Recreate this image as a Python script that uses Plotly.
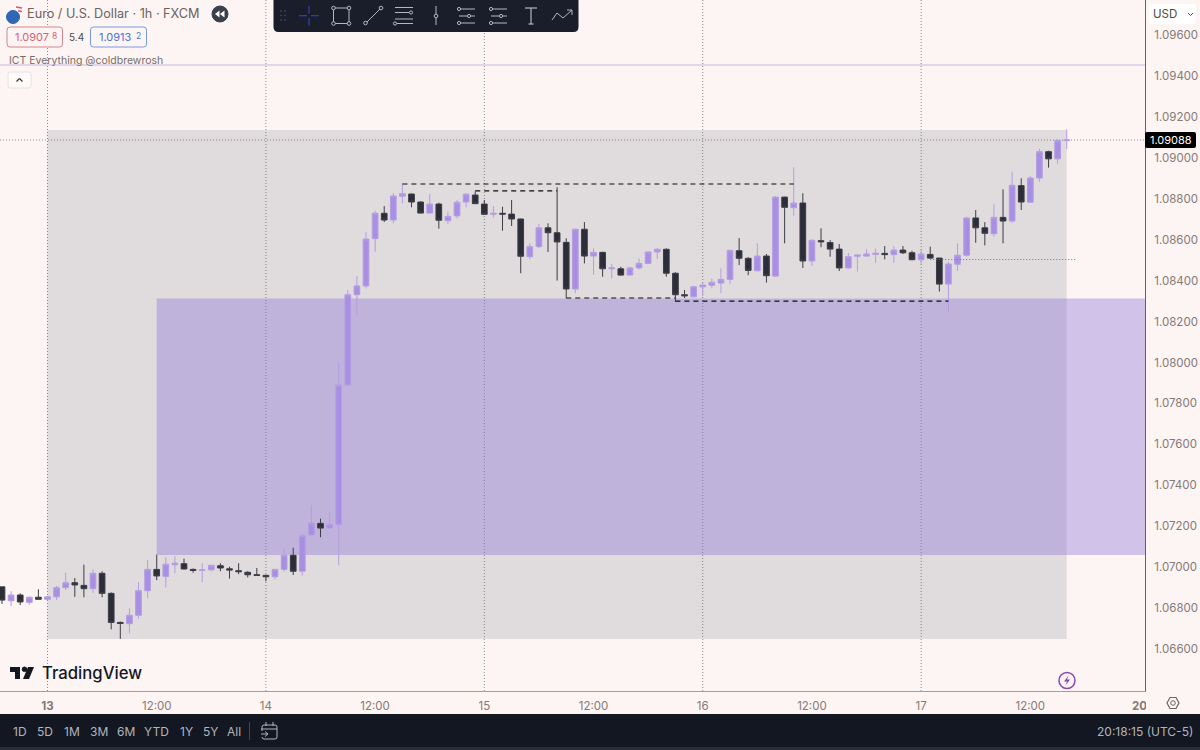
import plotly.graph_objects as go

# hours counted from 13 Nov 00:00, axis is in bars so the weekend has no gap
hours = list(range(-5, 113))

opens = [
    1.06904, 1.06836, 1.06864, 1.06828, 1.06853, 1.06843, 1.06855, 1.06900, 1.06924, 1.06911,
    1.06895, 1.06970, 1.06872, 1.06730, 1.06724, 1.06765, 1.06885, 1.06989, 1.06955, 1.07012,
    1.07017, 1.06989, 1.06984, 1.06987, 1.07007, 1.06992, 1.06983, 1.06975, 1.06963, 1.06960,
    1.06953, 1.06989, 1.07058, 1.06980, 1.07157, 1.07214, 1.07191, 1.07209, 1.07890, 1.08331,
    1.08374, 1.08605, 1.08729, 1.08696, 1.08812, 1.08823, 1.08784, 1.08730, 1.08774, 1.08693,
    1.08716, 1.08784, 1.08818, 1.08774, 1.08724, 1.08729, 1.08725, 1.08701, 1.08517, 1.08566,
    1.08658, 1.08634, 1.08587, 1.08359, 1.08651, 1.08520, 1.08538, 1.08458, 1.08458, 1.08427,
    1.08462, 1.08484, 1.08540, 1.08553, 1.08436, 1.08331, 1.08321, 1.08369, 1.08377, 1.08388,
    1.08406, 1.08546, 1.08509, 1.08448, 1.08520, 1.08422, 1.08808, 1.08756, 1.08779, 1.08496,
    1.08595, 1.08586, 1.08554, 1.08462, 1.08519, 1.08520, 1.08528, 1.08533, 1.08527, 1.08549,
    1.08536, 1.08502, 1.08528, 1.08510, 1.08383, 1.08480, 1.08524, 1.08706, 1.08658, 1.08629,
    1.08709, 1.08691, 1.08864, 1.08783, 1.08901, 1.09030, 1.08995, 1.09084,
]
highs = [
    1.06904, 1.06883, 1.06872, 1.06855, 1.06892, 1.06859, 1.06908, 1.06973, 1.06947, 1.07012,
    1.06989, 1.06980, 1.06877, 1.06735, 1.06799, 1.06927, 1.07035, 1.07061, 1.07048, 1.07054,
    1.07041, 1.06994, 1.07019, 1.07010, 1.07019, 1.07002, 1.07019, 1.06980, 1.06996, 1.06963,
    1.06992, 1.07092, 1.07095, 1.07165, 1.07304, 1.07237, 1.07268, 1.08002, 1.08354, 1.08422,
    1.08637, 1.08742, 1.08764, 1.08827, 1.08875, 1.08825, 1.08787, 1.08823, 1.08781, 1.08737,
    1.08794, 1.08827, 1.08836, 1.08794, 1.08764, 1.08761, 1.08794, 1.08702, 1.08582, 1.08677,
    1.08680, 1.08856, 1.08607, 1.08654, 1.08686, 1.08558, 1.08541, 1.08481, 1.08468, 1.08468,
    1.08509, 1.08541, 1.08558, 1.08558, 1.08441, 1.08354, 1.08374, 1.08388, 1.08411, 1.08460,
    1.08549, 1.08608, 1.08514, 1.08582, 1.08530, 1.08813, 1.08810, 1.08954, 1.08827, 1.08602,
    1.08656, 1.08598, 1.08579, 1.08536, 1.08527, 1.08553, 1.08556, 1.08569, 1.08569, 1.08569,
    1.08546, 1.08553, 1.08566, 1.08512, 1.08492, 1.08582, 1.08712, 1.08745, 1.08686, 1.08774,
    1.08846, 1.08932, 1.08900, 1.08911, 1.09044, 1.09035, 1.09090, 1.09139,
]
lows = [
    1.06820, 1.06810, 1.06815, 1.06816, 1.06843, 1.06839, 1.06839, 1.06888, 1.06855, 1.06853,
    1.06875, 1.06853, 1.06696, 1.06650, 1.06677, 1.06748, 1.06849, 1.06937, 1.06900, 1.06970,
    1.06989, 1.06973, 1.06927, 1.06980, 1.06980, 1.06944, 1.06966, 1.06950, 1.06958, 1.06931,
    1.06940, 1.06978, 1.06962, 1.06958, 1.07152, 1.07146, 1.07188, 1.07010, 1.07885, 1.08230,
    1.08362, 1.08541, 1.08686, 1.08680, 1.08778, 1.08758, 1.08729, 1.08729, 1.08654, 1.08677,
    1.08704, 1.08758, 1.08774, 1.08722, 1.08709, 1.08644, 1.08667, 1.08436, 1.08504, 1.08558,
    1.08540, 1.08400, 1.08314, 1.08338, 1.08484, 1.08429, 1.08419, 1.08411, 1.08424, 1.08426,
    1.08455, 1.08481, 1.08507, 1.08419, 1.08297, 1.08315, 1.08318, 1.08325, 1.08362, 1.08338,
    1.08383, 1.08476, 1.08427, 1.08445, 1.08390, 1.08419, 1.08582, 1.08717, 1.08462, 1.08471,
    1.08563, 1.08517, 1.08447, 1.08458, 1.08444, 1.08517, 1.08487, 1.08504, 1.08487, 1.08530,
    1.08501, 1.08481, 1.08507, 1.08346, 1.08248, 1.08448, 1.08517, 1.08585, 1.08572, 1.08614,
    1.08582, 1.08683, 1.08745, 1.08781, 1.08883, 1.08952, 1.08970, 1.09043,
]
closes = [
    1.06839, 1.06864, 1.06830, 1.06853, 1.06843, 1.06855, 1.06900, 1.06924, 1.06913, 1.06895,
    1.06970, 1.06872, 1.06730, 1.06725, 1.06765, 1.06885, 1.06989, 1.06957, 1.07014, 1.07019,
    1.06991, 1.06984, 1.06987, 1.07009, 1.06996, 1.06986, 1.06978, 1.06963, 1.06960, 1.06953,
    1.06989, 1.07058, 1.06980, 1.07155, 1.07216, 1.07191, 1.07209, 1.07890, 1.08331, 1.08374,
    1.08603, 1.08729, 1.08696, 1.08813, 1.08825, 1.08784, 1.08730, 1.08774, 1.08695, 1.08714,
    1.08783, 1.08822, 1.08776, 1.08724, 1.08729, 1.08725, 1.08701, 1.08519, 1.08566, 1.08658,
    1.08634, 1.08589, 1.08359, 1.08651, 1.08520, 1.08538, 1.08458, 1.08462, 1.08427, 1.08462,
    1.08484, 1.08540, 1.08553, 1.08436, 1.08331, 1.08326, 1.08370, 1.08378, 1.08392, 1.08406,
    1.08548, 1.08509, 1.08450, 1.08520, 1.08424, 1.08808, 1.08758, 1.08779, 1.08496, 1.08597,
    1.08590, 1.08554, 1.08462, 1.08517, 1.08525, 1.08530, 1.08533, 1.08527, 1.08549, 1.08536,
    1.08502, 1.08530, 1.08510, 1.08383, 1.08481, 1.08524, 1.08706, 1.08658, 1.08631, 1.08709,
    1.08691, 1.08866, 1.08784, 1.08901, 1.09030, 1.08995, 1.09084, 1.09087,
]

price_ticks = [1.066 + 0.002 * i for i in range(16)]
time_ticks = [0, 12, 24, 36, 48, 60, 72, 84, 96, 108, 120]
time_labels = ["<b>13</b>", "12:00", "14", "12:00", "15", "12:00", "16", "12:00", "17", "12:00", "<b>20</b>"]
day_hours = [0, 24, 48, 72, 96]

# drawings on the chart: [from hour, to hour, price]
dashed_levels = [[39, 82, 1.08872], [47, 56, 1.08838], [57, 69, 1.08315], [69, 99, 1.08300]]
dotted_level = [97, 113, 1.08503]
top_level = 1.09453
grey_zone = [0, 112, 1.06649, 1.09136]
purple_zone = [12, 121, 1.07059, 1.08313]

ranges = ["1D", "5D", "1M", "3M", "6M", "YTD", "1Y", "5Y", "All"]
range_x = [20, 45, 72, 99, 126, 156, 186, 210, 234]

BG = "#fdf4f4"
DARK = "#131722"
TEXT = "#857a75"
ICON = "#b4b8c4"
PLOT_W, PLOT_H = 1145, 691
FINE_DOT = "1px,2px"


def px(x):
    return x / PLOT_W


def py(y):
    return 1 - y / PLOT_H


fig = go.Figure()
fig.add_trace(go.Candlestick(
    x=hours, open=opens, high=highs, low=lows, close=closes,
    increasing=dict(line=dict(color="#b39ee2", width=1), fillcolor="#a98fe3"),
    decreasing=dict(line=dict(color="#3d3d46", width=1), fillcolor="#2b2d39"),
    showlegend=False,
))

# zones and guide lines under the candles
fig.add_shape(type="rect", x0=grey_zone[0], x1=grey_zone[1], y0=grey_zone[2], y1=grey_zone[3],
              fillcolor="rgba(53,73,87,0.14)", line_width=0, layer="below")
fig.add_shape(type="rect", x0=purple_zone[0], x1=purple_zone[1], y0=purple_zone[2], y1=purple_zone[3],
              fillcolor="rgba(143,121,219,0.4)", line_width=0, layer="below")
for h in day_hours:
    fig.add_shape(type="line", x0=h, x1=h, yref="paper", y0=0, y1=1,
                  line=dict(color="#8f8c8e", width=1, dash=FINE_DOT), layer="below")
fig.add_shape(type="line", xref="paper", x0=0, x1=1, y0=closes[-1], y1=closes[-1],
              line=dict(color="#8f8c8e", width=1, dash=FINE_DOT), layer="below")
fig.add_shape(type="line", xref="paper", x0=0, x1=1, y0=top_level, y1=top_level,
              line=dict(color="#d8cbe6", width=1.5), layer="below")
fig.add_shape(type="line", x0=dotted_level[0], x1=dotted_level[1], y0=dotted_level[2], y1=dotted_level[2],
              line=dict(color="#77777a", width=1, dash=FINE_DOT))
for a, b, level in dashed_levels:
    fig.add_shape(type="line", x0=a, x1=b, y0=level, y1=level,
                  line=dict(color="#0c0c12", width=1.2, dash="5px,4px"))


# the TradingView interface around the chart
def rect(x0, y0, x1, y1, fill, line=None, width=1):
    fig.add_shape(type="rect", xref="paper", yref="paper", x0=px(x0), x1=px(x1), y0=py(y0), y1=py(y1),
                  fillcolor=fill, line=dict(color=line or fill, width=width if line else 0), layer="above")


def rrect(x0, y0, x1, y1, r, fill, line=None, width=1):
    d = (f"M{px(x0 + r)},{py(y0)} L{px(x1 - r)},{py(y0)} Q{px(x1)},{py(y0)} {px(x1)},{py(y0 + r)} "
         f"L{px(x1)},{py(y1 - r)} Q{px(x1)},{py(y1)} {px(x1 - r)},{py(y1)} "
         f"L{px(x0 + r)},{py(y1)} Q{px(x0)},{py(y1)} {px(x0)},{py(y1 - r)} "
         f"L{px(x0)},{py(y0 + r)} Q{px(x0)},{py(y0)} {px(x0 + r)},{py(y0)} Z")
    fig.add_shape(type="path", xref="paper", yref="paper", path=d, fillcolor=fill,
                  line=dict(color=line or fill, width=width if line else 0), layer="above")


def seg(x0, y0, x1, y1, color=ICON, width=1):
    fig.add_shape(type="line", xref="paper", yref="paper", x0=px(x0), x1=px(x1), y0=py(y0), y1=py(y1),
                  line=dict(color=color, width=width), layer="above")


def dot(x, y, r, fill="rgba(0,0,0,0)", line=ICON, width=1):
    fig.add_shape(type="circle", xref="paper", yref="paper", x0=px(x - r), x1=px(x + r), y0=py(y - r), y1=py(y + r),
                  fillcolor=fill, line=dict(color=line, width=width), layer="above")


def poly(points, fill):
    d = "M" + " L".join(f"{px(x)},{py(y)}" for x, y in points) + " Z"
    fig.add_shape(type="path", xref="paper", yref="paper", path=d, fillcolor=fill, line_width=0, layer="above")


def note(x, y, text, size=12, color=TEXT, anchor="left", weight=None):
    fig.add_annotation(xref="paper", yref="paper", x=px(x), y=py(y), text=text, showarrow=False,
                       xanchor=anchor, yanchor="middle", borderpad=0,
                       font=dict(family="Inter", size=size, color=color, weight=weight))


# bottom bars
rect(1146, 692, 1200, 714, BG)
rect(0, 714, 1200, 747, DARK)
rect(0, 747, 1200, 750, "#2a2e39")
for label, x in zip(ranges, range_x):
    note(x, 731, label, 12, "#b2b5be", "center")
seg(249.5, 722, 249.5, 740, "#434651")
rrect(262, 725, 277, 739, 2, "rgba(0,0,0,0)", "#b2b5be")
seg(261, 729, 277, 729, "#b2b5be")
seg(266, 722, 266, 726, "#b2b5be")
seg(273, 722, 273, 726, "#b2b5be")
rect(260, 731, 268, 737, DARK)
seg(261, 734, 268, 734, "#b2b5be")
seg(265, 731.5, 268, 734, "#b2b5be")
seg(265, 736.5, 268, 734, "#b2b5be")
note(1194, 731, "20:18:15 (UTC-5)", 12, "#b2b5be", "right")

# settings hexagon and lightning badge
fig.add_shape(type="path", xref="paper", yref="paper", line=dict(color="#6b6460", width=1.2), layer="above",
              path="M" + " L".join(f"{px(x)},{py(y)}" for x, y in
                                   [(1167, 703), (1170, 697.5), (1176, 697.5), (1179, 703), (1176, 708.5), (1170, 708.5)]) + " Z")
dot(1173, 703, 2.3, line="#6b6460")
dot(1067, 680.5, 8, line="#8e44ad", width=1.5)
poly([(1068.5, 675.5), (1064, 681.5), (1067, 681.5), (1065.5, 685.5), (1070, 679.5), (1067, 679.5)], "#8e44ad")

# price label and currency box
rrect(1145, 132, 1196, 148, 2, "#000000")
note(1171, 140, "1.09088", 11, "#ffffff", "center")
rrect(1149, 4, 1196, 24, 3, "#ffffff")
note(1152, 14, "USD", 11.5, "#4e4a48")
seg(1188, 13, 1190.5, 15.5, "#4e4a48")
seg(1190.5, 15.5, 1193, 13, "#4e4a48")

# legend, top left
dot(13, 17, 6.5, fill="#2f66b5", line="#2f66b5")
seg(16, 7, 22, 8, "#d9596a", 1.5)
seg(18, 11, 22, 11.5, "#d9596a", 1.5)
note(26, 14, "Euro / U.S. Dollar · 1h · FXCM", 12.7, "#6e625c")
dot(220, 14, 8, fill="#3a3f4a", line="#3a3f4a")
poly([(219.5, 10.5), (215, 14), (219.5, 17.5)], "#ffffff")
poly([(224.5, 10.5), (220, 14), (224.5, 17.5)], "#ffffff")
rrect(7, 27, 62.5, 47, 3, BG, "#d9848c")
note(14, 37, "1.0907", 11, "#d8656f")
note(50.5, 35.5, "8", 8.5, "#d8656f")
note(76, 37, "5.4", 10, "#4e4a48", "center")
rrect(90.5, 27, 146.5, 47, 3, BG, "#7a9ae0")
note(98, 37, "1.0913", 11, "#4a74cf")
note(134.5, 35.5, "2", 8.5, "#4a74cf")
note(8, 60, "ICT Everything @coldbrewrosh", 10.5, "#7a6d66")
rrect(8, 72, 31, 88, 2, "#fffafa", "#e8e0df")
seg(16.5, 81.5, 19.5, 78.5, "#3a3a3a", 1.2)
seg(19.5, 78.5, 22.5, 81.5, "#3a3a3a", 1.2)

# logo
poly([(10, 667), (20, 667), (20, 679), (15, 679), (15, 672), (10, 672)], "#131722")
dot(24.5, 669.3, 2.3, fill="#131722", line="#131722")
poly([(34, 667), (29, 679), (23, 679), (28, 667)], "#131722")
note(41, 673, "TradingView", 16.7, "#131722", weight=500)

# drawing toolbar
rrect(273.5, -4, 578.5, 32, 5, "#1a1e2b")
for dx in (281, 285):
    for dy in (11, 15.5, 20):
        dot(dx, dy, 0.5, fill="#434651", line="#434651")
seg(299, 15.7, 307, 15.7, "#2f42b8", 1.2)
seg(311, 15.7, 319, 15.7, "#2f42b8", 1.2)
seg(309, 6, 309, 13.5, "#2f42b8", 1.2)
seg(309, 18, 309, 25.5, "#2f42b8", 1.2)
rect(333.5, 8, 349, 23.5, "rgba(0,0,0,0)", ICON)
for cx, cy in [(333.5, 8), (349, 8), (333.5, 23.5), (349, 23.5)]:
    dot(cx, cy, 1.8, fill="#1a1e2b")
seg(366.5, 22.5, 380.5, 8.5)
dot(365.5, 23, 1.8, fill="#1a1e2b")
dot(381, 8, 1.8, fill="#1a1e2b")
for ly, lx in [(7.5, 413), (12.5, 409), (19, 413), (23.5, 413)]:
    seg(395, ly, lx, ly)
dot(411, 12.5, 1.6, fill="#1a1e2b")
dot(395, 23.5, 1.6, fill="#1a1e2b")
seg(436, 6, 436, 14)
seg(436, 18, 436, 25)
dot(436, 16, 1.8, fill="#1a1e2b")
for ix in (467, 499):
    seg(ix - 8, 9, ix + 8, 9)
    seg(ix - 8, 16, ix + 8, 16)
    seg(ix - 8, 23, ix + 8, 23)
    dot(ix - 8, 9, 1.6, fill="#1a1e2b")
    dot(ix + 2, 16, 1.6, fill="#1a1e2b")
    dot(ix - 8, 23, 1.6, fill="#1a1e2b")
seg(525, 8, 537, 8, width=1.2)
seg(531, 8, 531, 24, width=1.2)
seg(528.5, 24, 533.5, 24, width=1.2)
fig.add_shape(type="path", xref="paper", yref="paper", line=dict(color=ICON, width=1), layer="above",
              path=f"M{px(552)},{py(20)} L{px(557)},{py(13)} L{px(563)},{py(18)} L{px(572)},{py(10)}")
seg(567, 10, 572, 10)
seg(572, 10, 572, 15)

fig.update_layout(
    width=1200, height=750,
    margin=dict(l=0, r=55, t=0, b=59),
    paper_bgcolor=BG, plot_bgcolor=BG,
    showlegend=False,
    boxgap=0.375, boxgroupgap=0,
    font=dict(family="Inter", size=11.5, color=TEXT),
    xaxis=dict(
        range=[-5.22, 120.6], rangeslider_visible=False, showgrid=False, zeroline=False,
        tickmode="array", tickvals=time_ticks, ticktext=time_labels,
        ticks="outside", ticklen=4, tickcolor=BG, showline=True, linecolor="#a89d96", linewidth=1,
        tickfont=dict(family="Inter", size=11.5, color=TEXT),
    ),
    yaxis=dict(
        range=[1.06395, 1.09771], side="right", showgrid=False, zeroline=False,
        tickmode="array", tickvals=price_ticks, ticktext=[f"{p:.5f}" for p in price_ticks],
        ticks="outside", ticklen=6, tickcolor=BG, showline=True, linecolor="#6b5f5a", linewidth=1,
        tickfont=dict(family="Inter", size=11.5, color=TEXT),
    ),
)

# the default page margin would push the 1200x750 figure off the window
fig.write_html("out.html", config={"displayModeBar": False}, post_script="document.body.style.margin='0';")
